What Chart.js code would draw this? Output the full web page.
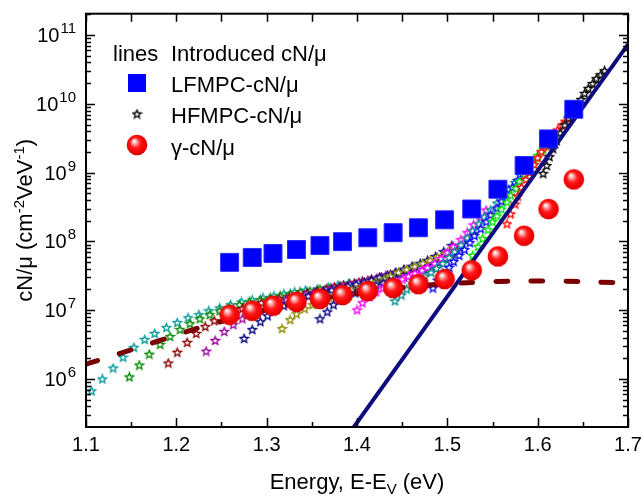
<!DOCTYPE html>
<html>
<head>
<meta charset="utf-8">
<script src="https://cdn.jsdelivr.net/npm/chart.js@4.4.1/dist/chart.umd.min.js"></script>
<style>
    html, body { margin: 0; padding: 0; background: #fff; }
    canvas { display: block; }
</style>
</head>
<body>
<canvas id="dos-chart" width="644" height="498"></canvas>
<script>
// energies (eV) of the LFMPC squares and the gamma spheres
const markerEnergy = [1.259, 1.284, 1.307, 1.333, 1.359, 1.384, 1.412, 1.440, 1.468, 1.497, 1.527, 1.556, 1.585, 1.612, 1.640];
const lfmpcValues = [4.96e7, 5.85e7, 6.68e7, 7.62e7, 8.7e7, 9.93e7, 1.13e8, 1.34e8, 1.58e8, 2.06e8, 2.96e8, 5.74e8, 1.27e9, 3.10e9, 8.36e9];
const gammaValues = [8.59e6, 9.8e6, 1.16e7, 1.32e7, 1.46e7, 1.66e7, 1.90e7, 2.10e7, 2.39e7, 2.83e7, 3.80e7, 6.05e7, 1.21e8, 2.96e8, 7.98e8];

// HFMPC sets, one per colour
const tealE = [1.106, 1.118, 1.130, 1.141, 1.153, 1.165, 1.176, 1.189, 1.201, 1.213, 1.225, 1.236, 1.248, 1.260, 1.272, 1.284, 1.296, 1.308, 1.319, 1.331, 1.343, 1.356, 1.368, 1.379, 1.391];
const tealV = [6.7e5, 1.0e6, 1.44e6, 2.07e6, 2.88e6, 3.75e6, 4.58e6, 5.58e6, 6.6e6, 7.76e6, 8.6e6, 9.8e6, 1.08e7, 1.20e7, 1.32e7, 1.41e7, 1.51e7, 1.61e7, 1.72e7, 1.84e7, 1.96e7, 2.03e7, 2.17e7, 2.32e7, 2.48e7];
const greenE = [1.148, 1.159, 1.170, 1.182, 1.193, 1.204, 1.215, 1.226, 1.237, 1.248, 1.259, 1.270, 1.281, 1.293, 1.304, 1.315, 1.326, 1.337, 1.348, 1.359, 1.370, 1.381, 1.392, 1.403, 1.414];
const greenV = [1.07e6, 1.59e6, 2.29e6, 3.18e6, 4.14e6, 5.22e6, 6.37e6, 7.5e6, 8.6e6, 9.8e6, 1.08e7, 1.20e7, 1.32e7, 1.41e7, 1.51e7, 1.61e7, 1.72e7, 1.84e7, 1.90e7, 2.03e7, 2.10e7, 2.24e7, 2.39e7, 2.48e7, 2.65e7];
const maroonE = [1.191, 1.201, 1.212, 1.222, 1.232, 1.242, 1.253, 1.263, 1.273, 1.283, 1.294, 1.304, 1.314, 1.325, 1.335, 1.345, 1.356, 1.366, 1.375, 1.385, 1.397, 1.406, 1.416, 1.427, 1.437];
const maroonV = [1.70e6, 2.44e6, 3.40e6, 4.58e6, 5.77e6, 7.03e6, 8.29e6, 9.46e6, 1.05e7, 1.16e7, 1.28e7, 1.36e7, 1.46e7, 1.56e7, 1.66e7, 1.78e7, 1.90e7, 2.03e7, 2.17e7, 2.32e7, 2.48e7, 2.65e7, 2.83e7, 3.02e7, 3.33e7];
const purpleE = [1.233, 1.243, 1.253, 1.263, 1.273, 1.283, 1.293, 1.302, 1.312, 1.322, 1.332, 1.342, 1.352, 1.362, 1.372, 1.382, 1.392, 1.402, 1.412, 1.422, 1.432, 1.442, 1.452, 1.462];
const purpleV = [2.53e6, 3.63e6, 4.89e6, 6.16e6, 7.5e6, 8.86e6, 1.01e7, 1.16e7, 1.28e7, 1.41e7, 1.51e7, 1.66e7, 1.78e7, 1.90e7, 2.10e7, 2.24e7, 2.39e7, 2.56e7, 2.74e7, 2.93e7, 3.22e7, 3.45e7, 3.80e7, 4.2e7];
const navyE = [1.275, 1.284, 1.293, 1.301, 1.310, 1.319, 1.328, 1.337, 1.346, 1.354, 1.363, 1.372, 1.381, 1.390, 1.399, 1.408, 1.416, 1.425, 1.434, 1.443, 1.452, 1.461, 1.470, 1.478, 1.487, 1.496, 1.505];
const navyV = [3.88e6, 5.22e6, 6.80e6, 8.29e6, 1.01e7, 1.16e7, 1.32e7, 1.46e7, 1.61e7, 1.72e7, 1.84e7, 1.96e7, 2.10e7, 2.24e7, 2.39e7, 2.56e7, 2.74e7, 3.02e7, 3.22e7, 3.56e7, 3.93e7, 4.35e7, 4.80e7, 5.30e7, 6.04e7, 7.1e7, 8.7e7];
const oliveE = [1.317, 1.326, 1.333, 1.342, 1.351, 1.360, 1.369, 1.378, 1.385, 1.394, 1.403, 1.412, 1.421, 1.430, 1.437, 1.446, 1.455, 1.464, 1.473, 1.481, 1.489, 1.498, 1.507];
const oliveV = [5.40e6, 7.27e6, 8.86e6, 1.05e7, 1.20e7, 1.36e7, 1.51e7, 1.66e7, 1.78e7, 1.96e7, 2.10e7, 2.32e7, 2.56e7, 2.83e7, 3.12e7, 3.56e7, 3.93e7, 4.35e7, 4.80e7, 5.30e7, 5.90e7, 6.7e7, 7.9e7];
const navy2E = [1.359, 1.367, 1.374, 1.382, 1.390, 1.398, 1.405, 1.413, 1.421, 1.429, 1.436, 1.444, 1.452, 1.460, 1.467, 1.475, 1.483, 1.491, 1.498, 1.506, 1.514, 1.522, 1.529];
const navy2V = [7.5e6, 9.46e6, 1.20e7, 1.41e7, 1.61e7, 1.78e7, 1.96e7, 2.17e7, 2.32e7, 2.48e7, 2.65e7, 2.83e7, 3.02e7, 3.33e7, 3.56e7, 3.93e7, 4.35e7, 4.95e7, 5.65e7, 6.7e7, 8.1e7, 1.03e8, 1.29e8];
const magentaE = [1.400, 1.406, 1.414, 1.421, 1.429, 1.435, 1.443, 1.450, 1.457, 1.464, 1.472, 1.478, 1.486, 1.493, 1.500, 1.507, 1.515, 1.522, 1.529, 1.536, 1.543];
const magentaV = [1.01e7, 1.28e7, 1.56e7, 1.84e7, 2.10e7, 2.32e7, 2.56e7, 2.83e7, 3.12e7, 3.45e7, 3.80e7, 4.2e7, 4.80e7, 5.65e7, 6.9e7, 8.4e7, 1.06e8, 1.34e8, 1.74e8, 2.27e8, 2.86e8];
const teal2E = [1.442, 1.449, 1.455, 1.462, 1.468, 1.475, 1.482, 1.488, 1.495, 1.502, 1.508, 1.515, 1.522, 1.528, 1.535, 1.541, 1.548, 1.555, 1.561, 1.568, 1.575, 1.581];
const teal2V = [1.36e7, 1.66e7, 2.03e7, 2.39e7, 2.74e7, 3.12e7, 3.56e7, 4.06e7, 4.80e7, 5.85e7, 7.1e7, 8.9e7, 1.13e8, 1.43e8, 1.80e8, 2.27e8, 2.86e8, 3.61e8, 4.55e8, 5.73e8, 7.2e8, 9.1e8];
const blueE = [1.484, 1.489, 1.495, 1.502, 1.507, 1.513, 1.519, 1.525, 1.530, 1.537, 1.543, 1.548, 1.555, 1.560, 1.566, 1.572, 1.578, 1.583, 1.590];
const blueV = [2.10e7, 2.74e7, 3.45e7, 4.2e7, 5.1e7, 6.26e7, 7.6e7, 9.6e7, 1.21e8, 1.53e8, 1.93e8, 2.43e8, 3.06e8, 3.86e8, 4.86e8, 6.13e8, 7.7e8, 9.7e8, 1.23e9];
const limeE = [1.528, 1.534, 1.539, 1.545, 1.550, 1.555, 1.560, 1.566, 1.570, 1.576, 1.580, 1.586, 1.590, 1.596, 1.600, 1.606, 1.610];
const limeV = [6.26e7, 8.4e7, 1.10e8, 1.48e8, 1.93e8, 2.35e8, 2.96e8, 3.73e8, 4.70e8, 5.93e8, 7.5e8, 9.4e8, 1.15e9, 1.45e9, 1.77e9, 2.15e9, 2.63e9];
const redE = [1.566, 1.570, 1.575, 1.578, 1.582, 1.587, 1.591, 1.596, 1.600, 1.604, 1.609, 1.613, 1.618, 1.622, 1.627, 1.631, 1.635];
const redV = [1.80e8, 2.51e8, 3.5e8, 4.55e8, 6.13e8, 7.98e8, 1.01e9, 1.31e9, 1.65e9, 2.02e9, 2.46e9, 3.0e9, 3.54e9, 4.17e9, 4.93e9, 5.6e9, 6.4e9];
const blackE = [1.606, 1.610, 1.613, 1.617, 1.621, 1.625, 1.630, 1.634, 1.639, 1.643, 1.648, 1.652, 1.656, 1.661, 1.665, 1.670, 1.674];
const blackV = [9.7e8, 1.27e9, 1.71e9, 2.23e9, 2.90e9, 3.78e9, 4.93e9, 6.2e9, 7.8e9, 9.5e9, 1.16e10, 1.42e10, 1.68e10, 1.98e10, 2.33e10, 2.66e10, 3.04e10];

// dashed (dark red) and solid (navy) lines
const dashedE = [1.100, 1.138, 1.182, 1.226, 1.270, 1.315, 1.359, 1.403, 1.447, 1.492, 1.536, 1.580, 1.624, 1.669, 1.700];
const dashedV = [1.64e6, 2.36e6, 3.63e6, 5.58e6, 8.0e6, 1.12e7, 1.46e7, 1.78e7, 2.10e7, 2.39e7, 2.56e7, 2.65e7, 2.65e7, 2.56e7, 2.48e7];
const solidE = [1.39, 1.70];
const solidV = [1.52e5, 7.35e10];

// axes
const xTicks = [1.1, 1.2, 1.3, 1.4, 1.5, 1.6, 1.7];
const yDecades = [6, 7, 8, 9, 10, 11];

const FONT = '"Liberation Sans", Arial, Helvetica, sans-serif';
Chart.defaults.font.family = FONT;

const toPoints = (xs, ys) => xs.map((x, i) => ({ x: x, y: ys[i] }));

function makeStar(color) {
    const c = document.createElement('canvas');
    c.width = 11; c.height = 11;
    const g = c.getContext('2d');
    g.beginPath();
    for (let i = 0; i < 10; i++) {
        const r = i % 2 ? 1.9 : 4.3;
        const a = -Math.PI / 2 + i * Math.PI / 5;
        g.lineTo(5.5 + r * Math.cos(a), 5.8 + r * Math.sin(a));
    }
    g.closePath();
    g.fillStyle = '#fff';
    g.fill();
    g.lineWidth = 1.3;
    g.strokeStyle = color;
    g.stroke();
    return c;
}

function makeSphere() {
    const c = document.createElement('canvas');
    c.width = 22; c.height = 22;
    const g = c.getContext('2d');
    const grad = g.createRadialGradient(8, 7, 0.5, 11, 11, 11);
    grad.addColorStop(0, '#ffffff');
    grad.addColorStop(0.2, '#ff9a9a');
    grad.addColorStop(0.45, '#ff1a1a');
    grad.addColorStop(0.8, '#f00000');
    grad.addColorStop(1, '#c80000');
    g.beginPath();
    g.arc(11, 11, 10.3, 0, Math.PI * 2);
    g.fillStyle = grad;
    g.fill();
    return c;
}

const sphereImg = makeSphere();

function starSet(label, xs, ys, color) {
    return {
        label: label,
        data: toPoints(xs, ys),
        pointStyle: makeStar(color),
        pointRadius: 4,
        showLine: false
    };
}

const datasets = [
    { label: 'gamma', data: toPoints(markerEnergy, gammaValues), pointStyle: sphereImg, pointRadius: 10 },
    { label: 'LFMPC', data: toPoints(markerEnergy, lfmpcValues), pointStyle: 'rect', pointRadius: 12.7,
      backgroundColor: '#0000ff', borderColor: '#2a2aff', borderWidth: 1 },
    { label: 'fit', data: toPoints(solidE, solidV), showLine: true, pointRadius: 0,
      borderColor: '#0c0c7e', borderWidth: 4 },
    { label: 'tail', data: toPoints(dashedE, dashedV), showLine: true, pointRadius: 0, tension: 0.4,
      borderColor: '#7a0000', borderWidth: 5, borderDash: [12, 23], borderCapStyle: 'round' },
    starSet('black', blackE, blackV, '#000000'),
    starSet('red', redE, redV, '#ff0000'),
    starSet('lime', limeE, limeV, '#00e000'),
    starSet('blue', blueE, blueV, '#0000ff'),
    starSet('teal2', teal2E, teal2V, '#008b8b'),
    starSet('magenta', magentaE, magentaV, '#ff00ff'),
    starSet('navy2', navy2E, navy2V, '#000080'),
    starSet('olive', oliveE, oliveV, '#8b8b00'),
    starSet('navy', navyE, navyV, '#000080'),
    starSet('purple', purpleE, purpleV, '#990099'),
    starSet('maroon', maroonE, maroonV, '#8b0000'),
    starSet('green', greenE, greenV, '#008800'),
    starSet('teal', tealE, tealV, '#009999')
];

// frame, inward ticks, y labels with exponents, axis titles
const framePlugin = {
    id: 'frame',
    afterDatasetsDraw(chart) {
        const { ctx, chartArea: a, scales } = chart;
        const x = scales.x, y = scales.y;
        ctx.save();
        ctx.strokeStyle = '#000';
        ctx.lineWidth = 1.5;
        ctx.beginPath();
        for (let i = 0; i <= 12; i++) {
            const px = Math.round(x.getPixelForValue(1.1 + i * 0.05)) + 0.5;
            ctx.moveTo(px, a.bottom); ctx.lineTo(px, a.bottom - (i % 2 === 0 ? 9 : 5));
            ctx.moveTo(px, a.top); ctx.lineTo(px, a.top + 8);
        }
        for (let n = 5; n <= 11; n++) {
            for (let k = 1; k <= 9; k++) {
                const v = k * Math.pow(10, n);
                if (v < y.min * 1.001 || v > y.max) continue;
                const py = Math.round(y.getPixelForValue(v)) + 0.5;
                const len = k === 1 ? 9 : 5;
                ctx.moveTo(a.left, py); ctx.lineTo(a.left + len, py);
                ctx.moveTo(a.right, py); ctx.lineTo(a.right - len, py);
            }
        }
        ctx.stroke();
        ctx.lineWidth = 2;
        ctx.strokeRect(a.left, a.top, a.right - a.left, a.bottom - a.top);

        ctx.fillStyle = '#000';
        ctx.textBaseline = 'alphabetic';
        yDecades.forEach(function (n) {
            const py = y.getPixelForValue(Math.pow(10, n));
            ctx.font = '15px ' + FONT;
            const exp = String(n);
            const ew = ctx.measureText(exp).width;
            ctx.textAlign = 'left';
            ctx.fillText(exp, 76 - ew, py - 2);
            ctx.font = '20px ' + FONT;
            ctx.textAlign = 'right';
            ctx.fillText('10', 76 - ew - 1, py + 7);
        });

        // x title with subscript V
        ctx.textAlign = 'left';
        const parts = [['Energy, E-E', 22, 0], ['V', 15, 5], [' (eV)', 22, 0]];
        let total = 0;
        parts.forEach(function (p) { ctx.font = p[1] + 'px ' + FONT; total += ctx.measureText(p[0]).width; });
        let cx = (a.left + a.right) / 2 - total / 2;
        parts.forEach(function (p) {
            ctx.font = p[1] + 'px ' + FONT;
            ctx.fillText(p[0], cx, 489 + p[2]);
            cx += ctx.measureText(p[0]).width;
        });

        // y title with superscripts, rotated
        const yparts = [['cN/\u03bc (cm', 22, 0], ['-2', 15, -8], ['VeV', 22, 0], ['-1', 15, -8], [')', 22, 0]];
        total = 0;
        yparts.forEach(function (p) { ctx.font = p[1] + 'px ' + FONT; total += ctx.measureText(p[0]).width; });
        ctx.translate(32, (a.top + a.bottom) / 2);
        ctx.rotate(-Math.PI / 2);
        let cy = -total / 2;
        yparts.forEach(function (p) {
            ctx.font = p[1] + 'px ' + FONT;
            ctx.fillText(p[0], cy, p[2]);
            cy += ctx.measureText(p[0]).width;
        });
        ctx.restore();
    }
};

const legendPlugin = {
    id: 'innerLegend',
    afterDraw(chart) {
        const ctx = chart.ctx;
        ctx.save();
        ctx.fillStyle = '#000';
        ctx.font = '22px ' + FONT;
        ctx.textAlign = 'left';
        ctx.textBaseline = 'alphabetic';
        ctx.fillText('lines', 113, 61);
        ctx.fillText('Introduced cN/\u03bc', 171, 61);

        ctx.fillStyle = '#0000ff';
        ctx.fillRect(128, 74, 18, 18);
        const star = makeStar('#000000');
        ctx.drawImage(star, 137 - 5.5, 114 - 5.5);
        ctx.drawImage(sphereImg, 137 - 11, 145 - 11);

        ctx.fillStyle = '#000';
        ctx.fillText('LFMPC-cN/\u03bc', 171, 92);
        ctx.fillText('HFMPC-cN/\u03bc', 171, 123);
        ctx.fillText('\u03b3-cN/\u03bc', 171, 155);
        ctx.restore();
    }
};

new Chart(document.getElementById('dos-chart').getContext('2d'), {
    type: 'scatter',
    data: { datasets: datasets },
    options: {
        responsive: false,
        animation: false,
        events: [],
        layout: { padding: { top: 8, right: 16, left: 0, bottom: 0 } },
        plugins: { legend: { display: false }, tooltip: { enabled: false } },
        scales: {
            x: {
                type: 'linear', min: 1.1, max: 1.7,
                afterBuildTicks: function (scale) { scale.ticks = xTicks.map(function (v) { return { value: v }; }); },
                // small padding keeps the last label inside the right margin; lineHeight pushes the labels down
                ticks: { color: '#000', font: { size: 20, lineHeight: 1.7 }, padding: 1, maxRotation: 0,
                         callback: function (v) { return Number(v).toFixed(1); } },
                grid: { display: false, drawTicks: false },
                border: { display: false },
                afterFit: function (scale) { scale.height = 71; }
            },
            y: {
                type: 'logarithmic', min: 2.0e5, max: 2.05e11,
                ticks: { display: false },
                grid: { display: false, drawTicks: false },
                border: { display: false },
                afterFit: function (scale) { scale.width = 86; }
            }
        }
    },
    plugins: [framePlugin, legendPlugin]
});
</script>
</body>
</html>
